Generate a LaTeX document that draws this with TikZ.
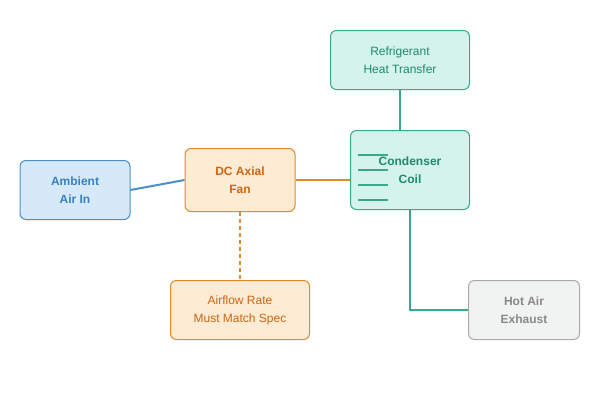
\documentclass[tikz,border=0pt]{standalone}
\usepackage{fontspec}
\setmainfont{Liberation Sans}
\definecolor{bF}{HTML}{D6E9F8}\definecolor{bD}{HTML}{4A90C8}\definecolor{bT}{HTML}{3A7FC0}
\definecolor{oF}{HTML}{FDEBD3}\definecolor{oD}{HTML}{E08A2A}\definecolor{oT}{HTML}{CF6510}
\definecolor{gF}{HTML}{D4F3EB}\definecolor{gD}{HTML}{3AA88A}\definecolor{gT}{HTML}{1F8A6E}
\definecolor{hF}{HTML}{F1F2F2}\definecolor{hD}{HTML}{AAAAAA}\definecolor{hT}{HTML}{888888}
\begin{document}
\begin{tikzpicture}[x=1pt,y=-1pt,
 box/.style={draw,rounded corners=6pt,line width=1pt,align=center,font=\fontsize{12}{18}\selectfont,inner sep=0pt},
 bf/.style={font=\fontsize{12}{18}\selectfont\bfseries},
 blue/.style={box,fill=bF,draw=bD,text=bT,bf},
 orng/.style={box,fill=oF,draw=oD,text=oT},
 teal/.style={box,fill=gF,draw=gD,text=gT},
 con/.style={line width=2pt}]
\useasboundingbox (0,0) rectangle (600,400);
\node[blue,minimum width=110pt,minimum height=59pt] (amb) at (75,190) {Ambient\\Air In};
\node[orng,bf,minimum width=110pt,minimum height=63pt] (fan) at (240,180) {DC Axial\\Fan};
\node[teal,bf,minimum width=119pt,minimum height=79pt] (coil) at (410,170) {Condenser\\Coil};
\node[teal,minimum width=139pt,minimum height=59pt] (ref) at (400,60) {Refrigerant\\Heat Transfer};
\node[orng,minimum width=139pt,minimum height=59pt] (air) at (240,310) {Airflow Rate\\Must Match Spec};
\node[box,fill=hF,draw=hD,text=hT,bf,minimum width=111pt,minimum height=59pt] (hot) at (524,310) {Hot Air\\Exhaust};
\foreach \y in {155,170,185,200} \draw[gD,con] (358,\y) -- (388,\y);
\draw[bD,con] (amb.east) -- (fan.west);
\draw[oD,con] (fan.east) -- (coil.west |- fan.east);
\draw[oD,con,dash pattern=on 4pt off 3pt] (fan.south) -- (air.north);
\draw[gD,con] (ref.south) -- (ref.south |- coil.north);
\coordinate (k) at (410,310);
\draw[gD,con] (coil.south) -- (k) -- (hot.west);
\end{tikzpicture}
\end{document}
